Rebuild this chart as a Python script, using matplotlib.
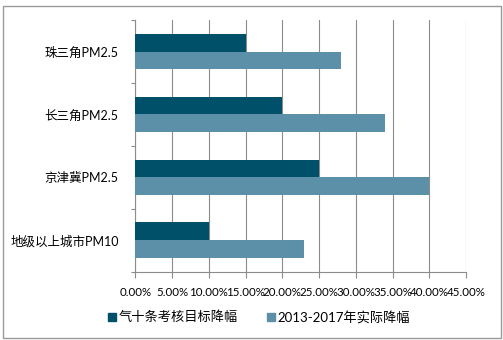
import matplotlib.pyplot as plt
import matplotlib.patches as mpatches
import numpy as np

plt.rcParams['font.family'] = ['Lato', 'Noto Sans CJK SC', 'DejaVu Sans']

# data (bottom to top)
categories = ['地级以上城市PM10', '京津冀PM2.5', '长三角PM2.5', '珠三角PM2.5']
target = [10, 25, 20, 15]
actual = [23, 40, 34, 28]
series_names = ['气十条考核目标降幅', '2013-2017年实际降幅']
xticks = [0, 5, 10, 15, 20, 25, 30, 35, 40, 45]

c_dark = '#01506A'
c_light = '#5C90A8'
c_grid = '#8C8C8C'

fig = plt.figure(figsize=(5.03, 3.40), dpi=100)
ax = fig.add_axes([0.269, 0.201, 0.6575, 0.740])

y = np.arange(len(categories))
h = 0.283
ax.barh(y + h / 2, target, height=h, color=c_dark, label=series_names[0], zorder=3)
ax.barh(y - h / 2, actual, height=h, color=c_light, label=series_names[1], zorder=3)

ax.set_xlim(0, 45)
ax.set_ylim(-0.5, len(categories) - 0.5)
ax.set_xticks(xticks)
ax.set_xticklabels([f'{v:.2f}%' for v in xticks], fontsize=8.3)
ax.set_yticks(y)
ax.set_yticklabels(categories, fontsize=9)
ax.set_yticks(np.arange(-0.5, len(categories), 1), minor=True)
ax.tick_params(axis='y', which='major', length=0, pad=12)
ax.tick_params(axis='y', which='minor', length=3, color=c_grid, width=0.8)
ax.tick_params(axis='x', length=4, color=c_grid, width=0.8, pad=7)

ax.grid(axis='x', color=c_grid, linewidth=0.8, zorder=0)
for s in ['top', 'right']:
    ax.spines[s].set_visible(False)
for s in ['left', 'bottom']:
    ax.spines[s].set_color(c_grid)
    ax.spines[s].set_linewidth(0.8)

handles = [mpatches.Patch(color=c_dark), mpatches.Patch(color=c_light)]
fig.legend(handles, series_names, loc='center', bbox_to_anchor=(0.515, 0.068),
           ncol=2, frameon=False, fontsize=9.5, handlelength=0.6, handleheight=0.6,
           handletextpad=0.2, columnspacing=2.2)

border = mpatches.Rectangle((3 / 503, 2 / 340), 498 / 503, 332 / 340, transform=fig.transFigure,
                            fill=False, edgecolor='#9A9A9A', linewidth=1)
fig.patches.append(border)

fig.savefig('out.png', dpi=100)
